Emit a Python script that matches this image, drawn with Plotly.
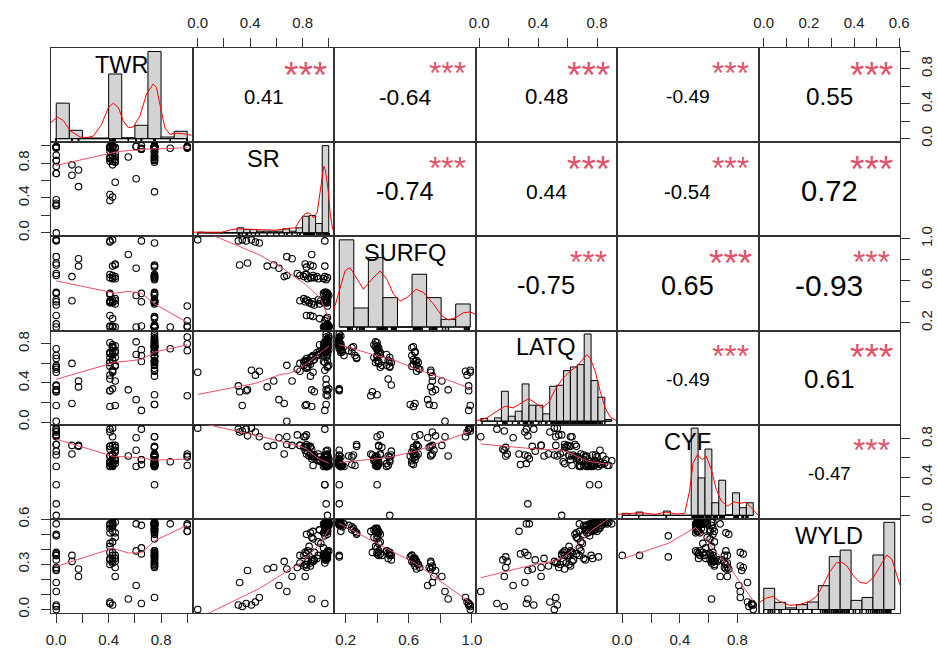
import numpy as np
import plotly.graph_objects as go

# ---------------- data (one observation per position) ----------------
names = ["TWR", "SR", "SURFQ", "LATQ", "CYF", "WYLD"]

twr = [0.75, 0.75, 0.75, 0.75, 0.75, 0.75, 0.75, 0.75, 0.75, 0.75, 0.75, 0.75, 0.75, 0.75, 0.75, 0.75,
       0.43, 0.43, 0.43, 0.43, 0.41, 0.41, 0.45, 0.65, 0.61, 1.00, 1.00, 0.87, 0.00, 0.00,
       0.75, 0.75, 0.75, 0.41, 0.43, 0.00, 1.00,
       0.75, 0.75, 0.75, 0.75, 0.75, 0.75, 0.75, 0.75, 0.75, 0.43, 0.43, 0.43, 0.45, 0.45, 0.45,
       0.41, 0.41, 0.41, 0.00, 0.00, 0.00, 0.12, 0.65, 1.00,
       0.75, 0.75, 0.75, 0.75, 0.41, 0.41, 0.61, 0.65, 0.00, 0.00,
       0.75, 0.75, 0.75, 0.75, 0.75, 0.75, 0.75, 0.75, 0.43, 0.43, 0.43, 0.45, 0.45, 0.41, 0.41,
       0.00, 0.00, 0.12,
       0.75, 0.75, 0.75, 0.43, 0.45, 0.45, 0.17, 0.00, 0.00, 0.61,
       0.00, 0.17, 0.55,
       0.00, 0.00, 0.00, 0.41, 0.41, 0.43, 0.75, 0.65]

sr = [0.99, 1.00, 0.98, 0.99, 1.00, 0.97, 0.99, 0.98, 1.00, 0.99, 0.96, 0.99, 1.00, 0.98, 0.99, 0.97,
      0.99, 0.98, 1.00, 0.99, 0.97, 0.99, 0.98, 1.00, 0.99, 0.98, 0.99, 0.97, 0.98, 0.99,
      0.93, 0.88, 0.99, 0.86, 0.98, 0.83, 0.97,
      0.99, 0.98, 0.97, 0.96, 0.99, 0.93, 0.88, 0.84, 0.98, 0.99, 0.92, 0.82, 0.97, 0.87, 0.81,
      0.98, 0.85, 0.94, 0.97, 0.83, 0.89, 0.78, 0.96, 0.99,
      0.99, 0.98, 1.00, 0.97, 0.99, 0.98, 0.99, 0.96, 0.98, 0.99,
      0.99, 0.97, 0.92, 0.88, 0.86, 0.83, 0.98, 0.81, 0.96, 0.89, 0.78, 0.91, 0.84, 0.87, 0.82,
      0.76, 0.68, 0.66,
      0.97, 0.86, 0.83, 0.88, 0.58, 0.82, 0.53, 0.38, 0.32, 0.62,
      0.68, 0.72, 0.87,
      0.00, 0.31, 0.34, 0.37, 0.44, 0.41, 0.47, 0.97]

surfq = [0.16, 0.16, 0.17, 0.16, 0.17, 0.16, 0.16, 0.17, 0.16, 0.18, 0.16, 0.16, 0.17, 0.16, 0.17, 0.16,
         0.16, 0.17, 0.16, 0.16, 0.17, 0.16, 0.16, 0.17, 0.16, 0.16, 0.17, 0.16, 0.16, 0.19,
         0.24, 0.26, 0.25, 0.27, 0.24, 0.27, 0.22,
         0.40, 0.41, 0.39, 0.40, 0.42, 0.38, 0.40, 0.41, 0.40, 0.39, 0.42, 0.40, 0.41, 0.38, 0.43,
         0.40, 0.39, 0.41, 0.40, 0.42, 0.37, 0.41, 0.40, 0.36,
         0.47, 0.48, 0.46, 0.49, 0.48, 0.47, 0.46, 0.48, 0.49, 0.48,
         0.63, 0.64, 0.62, 0.65, 0.63, 0.66, 0.61, 0.64, 0.62, 0.63, 0.65, 0.64, 0.62, 0.63, 0.66,
         0.67, 0.65, 0.64,
         0.74, 0.75, 0.73, 0.74, 0.75, 0.76, 0.74, 0.77, 0.75, 0.72,
         0.83, 0.81, 0.85,
         0.99, 0.98, 0.99, 0.98, 0.97, 0.99, 0.96, 0.98]

latq = [0.78, 0.82, 0.76, 0.85, 0.88, 0.79, 0.83, 0.77, 0.86, 0.72, 0.80, 0.84, 0.78, 0.90, 0.76, 0.81,
        0.77, 0.73, 0.34, 0.79, 0.71, 0.32, 0.78, 0.74, 0.82, 0.87, 0.80, 0.75, 0.33, 0.68,
        0.72, 0.68, 0.77, 0.66, 0.76, 0.65, 0.73,
        0.78, 0.76, 0.82, 0.74, 0.71, 0.79, 0.67, 0.62, 0.28, 0.77, 0.69, 0.63, 0.73, 0.66, 0.58,
        0.81, 0.61, 0.70, 0.75, 0.56, 0.31, 0.60, 0.68, 0.27,
        0.63, 0.66, 0.58, 0.61, 0.57, 0.44, 0.69, 0.62, 0.38, 0.56,
        0.77, 0.72, 0.68, 0.63, 0.59, 0.55, 0.18, 0.62, 0.76, 0.64, 0.52, 0.71, 0.57, 0.16, 0.61,
        0.54, 0.58, 0.19,
        0.53, 0.47, 0.18, 0.51, 0.42, 0.17, 0.36, 0.33, 0.31, 0.23,
        0.01, 0.42, 0.33,
        0.51, 0.37, 0.17, 0.32, 0.48, 0.53, 0.52, 0.12]

cyf = [0.52, 0.53, 0.51, 0.54, 0.52, 0.56, 0.53, 0.51, 0.58, 0.52, 0.54, 0.62, 0.52, 0.57, 0.53, 0.32,
       0.55, 0.51, 0.59, 0.63, 0.52, 0.54, 0.57, 0.53, 0.68, 0.52, 0.61, 0.56, 0.12, 0.51,
       0.61, 0.52, 0.63, 0.72, 0.53, 0.74, 0.62,
       0.52, 0.53, 0.55, 0.51, 0.63, 0.57, 0.61, 0.72, 0.53, 0.52, 0.64, 0.82, 0.54, 0.59, 0.71,
       0.51, 0.62, 0.56, 0.32, 0.84, 0.63, 0.73, 0.58, 0.64,
       0.52, 0.61, 0.54, 0.63, 0.56, 0.62, 0.51, 0.58, 0.67, 0.00,
       0.53, 0.61, 0.57, 0.62, 0.71, 0.64, 0.62, 0.82, 0.54, 0.63, 0.73, 0.58, 0.66, 0.69, 0.72,
       0.84, 0.74, 0.64,
       0.62, 0.64, 0.71, 0.63, 0.73, 0.68, 0.72, 0.83, 0.87, 0.81,
       0.82, 0.73, 0.62,
       0.91, 0.90, 0.88, 0.90, 0.87, 0.91, 0.82, 0.90]

wyld = [0.57, 0.58, 0.56, 0.57, 0.58, 0.57, 0.56, 0.57, 0.58, 0.55, 0.57, 0.58, 0.56, 0.57, 0.56, 0.35,
        0.57, 0.56, 0.57, 0.58, 0.56, 0.57, 0.58, 0.56, 0.57, 0.57, 0.52, 0.57, 0.36, 0.57,
        0.53, 0.52, 0.54, 0.51, 0.55, 0.50, 0.56,
        0.53, 0.52, 0.54, 0.51, 0.50, 0.53, 0.47, 0.39, 0.37, 0.52, 0.45, 0.38, 0.51, 0.48, 0.36,
        0.54, 0.42, 0.44, 0.49, 0.37, 0.38, 0.36, 0.41, 0.52,
        0.38, 0.37, 0.39, 0.36, 0.38, 0.34, 0.39, 0.37, 0.33, 0.36,
        0.34, 0.33, 0.36, 0.32, 0.31, 0.30, 0.35, 0.29, 0.36, 0.33, 0.31, 0.34, 0.32, 0.33, 0.30,
        0.28, 0.27, 0.32,
        0.31, 0.29, 0.28, 0.32, 0.28, 0.22, 0.27, 0.26, 0.18, 0.16,
        0.12, 0.22, 0.07,
        0.00, 0.03, 0.02, 0.04, 0.05, 0.03, 0.08, 0.04]

# correlation coefficients (upper triangle, row-wise) and significance stars
corr_values = [0.41, -0.64, 0.48, -0.49, 0.55,
               -0.74, 0.44, -0.54, 0.72,
               -0.75, 0.65, -0.93,
               -0.49, 0.61,
               -0.47]
corr_stars = ["***"] * 15

# histograms (bin edges, bar densities) and density curves
twr_breaks = [0.0, 0.1, 0.2, 0.3, 0.4, 0.5, 0.6, 0.7, 0.8, 0.9, 1.0]
twr_hist = [1.06, 0.25, 0.02, 0.02, 1.93, 0.03, 0.40, 2.60, 0.05, 0.22]
twr_dens_x = [-0.041, 0.010, 0.056, 0.107, 0.183, 0.233, 0.284, 0.347, 0.398, 0.436, 0.474, 0.512,
              0.550, 0.588, 0.639, 0.689, 0.740, 0.765, 0.796, 0.829, 0.867, 0.918, 0.968, 1.031]
twr_dens_y = [0.48, 0.65, 0.53, 0.23, 0.05, 0.03, 0.08, 0.43, 0.93, 1.06, 0.93, 0.53,
              0.33, 0.35, 0.68, 1.33, 1.63, 1.53, 0.93, 0.33, 0.13, 0.16, 0.15, 0.10]

sr_breaks = [0.0, 0.05, 0.1, 0.15, 0.2, 0.25, 0.3, 0.35, 0.4, 0.45, 0.5, 0.55, 0.6, 0.65, 0.7,
             0.75, 0.8, 0.85, 0.9, 0.95, 1.0]
sr_hist = [0.02, 0, 0, 0, 0, 0, 0.15, 0.10, 0.10, 0.05, 0.05, 0.05, 0.05, 0.12, 0.05, 0.15,
           0.50, 0.52, 0.28, 2.62]
sr_dens_x = [-0.04, 0.098, 0.183, 0.259, 0.310, 0.438, 0.591, 0.668, 0.744, 0.783, 0.821, 0.852,
             0.885, 0.911, 0.936, 0.962, 0.974, 0.995, 1.013, 1.031]
sr_dens_y = [0.02, 0.02, 0.02, 0.10, 0.12, 0.10, 0.08, 0.12, 0.15, 0.40, 0.58, 0.60,
             0.45, 0.60, 1.30, 2.00, 1.90, 1.30, 0.50, 0.10]

surfq_breaks = [0.1, 0.2, 0.3, 0.4, 0.5, 0.6, 0.7, 0.8, 0.9, 1.0]
surfq_hist = [2.61, 0.57, 2.08, 0.88, 0.0, 1.58, 0.88, 0.23, 0.69]
surfq_dens_x = [0.064, 0.106, 0.140, 0.174, 0.209, 0.266, 0.324, 0.381, 0.427, 0.473, 0.519,
                0.565, 0.629, 0.680, 0.749, 0.806, 0.852, 0.898, 0.955, 1.001, 1.036]
surfq_dens_y = [0.53, 1.18, 1.68, 1.78, 1.53, 1.13, 1.43, 1.68, 1.43, 0.98, 0.78,
                0.88, 1.13, 1.03, 0.68, 0.33, 0.21, 0.28, 0.43, 0.45, 0.38]

latq_breaks = [0.0, 0.05, 0.1, 0.15, 0.2, 0.25, 0.3, 0.35, 0.4, 0.45, 0.5, 0.55, 0.6, 0.65, 0.7,
               0.75, 0.8, 0.85, 0.9, 0.95]
latq_hist = [0.08, 0.0, 0.10, 0.90, 0.15, 0.30, 1.12, 0.48, 0.48, 0.22, 1.05, 1.08, 1.52, 1.63,
             1.70, 2.62, 1.22, 0.72, 0.05]
latq_dens_x = [-0.038, 0.044, 0.117, 0.177, 0.237, 0.298, 0.346, 0.395, 0.443, 0.491, 0.540,
               0.588, 0.648, 0.697, 0.745, 0.769, 0.793, 0.830, 0.866, 0.902, 0.939, 0.992]
latq_dens_y = [0.0, 0.10, 0.30, 0.45, 0.40, 0.55, 0.68, 0.55, 0.40, 0.55, 0.95,
               1.25, 1.50, 1.65, 1.90, 2.00, 1.90, 1.50, 0.90, 0.40, 0.12, 0.0]

cyf_breaks = [0.0, 0.05, 0.1, 0.15, 0.2, 0.25, 0.3, 0.35, 0.4, 0.45, 0.5, 0.55, 0.6, 0.65, 0.7,
              0.75, 0.8, 0.85, 0.9, 0.95]
cyf_hist = [0.06, 0.0, 0.10, 0, 0, 0, 0.13, 0, 0, 0, 2.63, 1.13, 2.00, 0.38, 1.06, 0.02, 0.68,
            0.23, 0.38]
cyf_dens_x = [-0.038, 0.044, 0.140, 0.237, 0.321, 0.393, 0.453, 0.490, 0.514, 0.545, 0.579,
              0.610, 0.646, 0.682, 0.718, 0.766, 0.810, 0.851, 0.899, 0.935, 0.988]
cyf_dens_y = [0.03, 0.06, 0.08, 0.03, 0.10, 0.04, 0.06, 0.78, 1.58, 1.83, 1.68,
              1.78, 1.38, 0.78, 0.43, 0.28, 0.41, 0.36, 0.40, 0.23, 0.0]

wyld_breaks = [0.0, 0.05, 0.1, 0.15, 0.2, 0.25, 0.3, 0.35, 0.4, 0.45, 0.5, 0.55, 0.6]
wyld_hist = [0.65, 0.22, 0.05, 0.15, 0.23, 0.73, 1.62, 1.82, 0.28, 0.37, 1.67, 2.67]
wyld_dens_x = [-0.024, 0.011, 0.042, 0.073, 0.118, 0.164, 0.210, 0.241, 0.272, 0.302, 0.333,
               0.356, 0.379, 0.409, 0.440, 0.471, 0.501, 0.532, 0.563, 0.586, 0.605, 0.624]
wyld_dens_y = [0.20, 0.35, 0.40, 0.25, 0.13, 0.15, 0.25, 0.40, 0.75, 1.15, 1.43,
               1.45, 1.35, 1.05, 0.83, 0.80, 0.97, 1.30, 1.67, 1.55, 1.15, 0.75]

# axis ticks and tick labels
twr_ticks = [0.0, 0.2, 0.4, 0.6, 0.8, 1.0]
twr_ticklabels = ["0.0", "", "0.4", "", "0.8", ""]
sr_ticks = [0.0, 0.2, 0.4, 0.6, 0.8, 1.0]
sr_ticklabels = ["0.0", "", "0.4", "", "0.8", ""]
surfq_ticks = [0.2, 0.4, 0.6, 0.8, 1.0]
surfq_ticklabels = ["0.2", "", "0.6", "", "1.0"]
latq_ticks = [0.0, 0.2, 0.4, 0.6, 0.8]
latq_ticklabels = ["0.0", "", "0.4", "", "0.8"]
cyf_ticks = [0.0, 0.2, 0.4, 0.6, 0.8]
cyf_ticklabels = ["0.0", "", "0.4", "", "0.8"]
wyld_ticks = [0.0, 0.1, 0.2, 0.3, 0.4, 0.5, 0.6]
wyld_x_ticklabels = ["0.0", "", "0.2", "", "0.4", "", "0.6"]
wyld_y_ticklabels = ["0.0", "", "", "0.3", "", "", "0.6"]

# ---------------- assembly ----------------
data = [twr, sr, surfq, latq, cyf, wyld]
hists = [(twr_breaks, twr_hist, twr_dens_x, twr_dens_y),
         (sr_breaks, sr_hist, sr_dens_x, sr_dens_y),
         (surfq_breaks, surfq_hist, surfq_dens_x, surfq_dens_y),
         (latq_breaks, latq_hist, latq_dens_x, latq_dens_y),
         (cyf_breaks, cyf_hist, cyf_dens_x, cyf_dens_y),
         (wyld_breaks, wyld_hist, wyld_dens_x, wyld_dens_y)]
x_ticks = [(twr_ticks, twr_ticklabels), (sr_ticks, sr_ticklabels), (surfq_ticks, surfq_ticklabels),
           (latq_ticks, latq_ticklabels), (cyf_ticks, cyf_ticklabels), (wyld_ticks, wyld_x_ticklabels)]
y_ticks = [(twr_ticks, twr_ticklabels), (sr_ticks, sr_ticklabels), (surfq_ticks, surfq_ticklabels),
           (latq_ticks, latq_ticklabels), (cyf_ticks, cyf_ticklabels), (wyld_ticks, wyld_y_ticklabels)]

W, H = 937, 649
X0, PW = 51.0, 141.5
Y0, PH = 48.0, 94.17
NV = 6
FONT = "Arial, Liberation Sans, sans-serif"
STAR_COL = "#DF536B"
SMOOTH_COL = "#E8506A"
BOX_COL = "#333333"


def rng(v):
    lo, hi = min(v), max(v)
    d = hi - lo
    return [lo - 0.04 * d, hi + 0.04 * d]


def lowess(x, y, f=2 / 3, iters=3):
    x = np.asarray(x, float)
    y = np.asarray(y, float)
    o = np.argsort(x, kind="mergesort")
    x, y = x[o], y[o]
    n = len(x)
    r = int(np.ceil(f * n))
    rob = np.ones(n)
    yest = np.zeros(n)
    for it in range(iters + 1):
        for i in range(n):
            d = np.abs(x - x[i])
            h = np.sort(d)[r - 1]
            if h <= 0:
                w = (d <= 0).astype(float)
            else:
                u = d / h
                w = np.where(u < 0.999, (1 - np.clip(u, 0, 1) ** 3) ** 3, 0.0)
                w[u <= 0.001] = 1.0
            w = w * rob
            sw = w.sum()
            if sw <= 0:
                yest[i] = y[i]
                continue
            xm = (w * x).sum() / sw
            ym = (w * y).sum() / sw
            sxx = (w * (x - xm) ** 2).sum()
            if sxx > 1e-12:
                b = (w * (x - xm) * (y - ym)).sum() / sxx
                yest[i] = ym + b * (x[i] - xm)
            else:
                yest[i] = ym
        res = y - yest
        s = 6 * np.median(np.abs(res))
        if s < 1e-7:
            break
        u = np.abs(res) / s
        rob = np.where(u < 1, (1 - u ** 2) ** 2, 0.0)
    return x, yest


def em_width(txt):
    wmap = {".": 0.278, "-": 0.333}
    return sum(wmap.get(c, 0.556) for c in txt)


fig = go.Figure()
layout = {}
annotations = []

for i in range(NV):
    for j in range(NV):
        k = i * NV + j + 1
        sfx = "" if k == 1 else str(k)
        xref, yref = "x" + sfx, "y" + sfx
        xd = [(X0 + PW * j) / W, (X0 + PW * (j + 1)) / W]
        yd = [1 - (Y0 + PH * (i + 1)) / H, 1 - (Y0 + PH * i) / H]
        base = dict(showgrid=False, zeroline=False, showline=True, mirror=True,
                    linecolor=BOX_COL, linewidth=1, ticks="", showticklabels=False,
                    fixedrange=True)
        xa = dict(base, domain=xd, anchor=yref)
        ya = dict(base, domain=yd, anchor=xref)

        if i == j:
            br, hv, dx, dy = hists[i]
            b0, bn = br[0], br[-1]
            bw = (bn - b0)
            m = max(hv)
            xa["range"] = [b0 - 0.04 * bw, bn + 0.04 * bw]
            ya["range"] = [-0.04 * m, 1.04 * m]
            centers = [(br[q] + br[q + 1]) / 2 for q in range(len(hv))]
            widths = [br[q + 1] - br[q] for q in range(len(hv))]
            fig.add_trace(go.Bar(x=centers, y=hv, width=widths, xaxis=xref, yaxis=yref,
                                 marker=dict(color="#D3D3D3", line=dict(color="black", width=1)),
                                 showlegend=False, hoverinfo="skip"))
            fig.add_trace(go.Scatter(x=[b0, bn], y=[0, 0], mode="lines", xaxis=xref, yaxis=yref,
                                     line=dict(color="black", width=1), showlegend=False,
                                     hoverinfo="skip"))
            fig.add_trace(go.Scatter(x=dx, y=dy, mode="lines", xaxis=xref, yaxis=yref,
                                     line=dict(color="red", width=1), showlegend=False,
                                     hoverinfo="skip"))
            # rug
            y_lo = -0.04 * m
            y_hi = y_lo + 0.035 * 1.08 * m
            rx, ry = [], []
            for v in data[i]:
                rx += [v, v, None]
                ry += [y_lo, y_hi, None]
            fig.add_trace(go.Scatter(x=rx, y=ry, mode="lines", xaxis=xref, yaxis=yref,
                                     line=dict(color="black", width=1.5), showlegend=False,
                                     hoverinfo="skip"))
            annotations.append(dict(xref=xref + " domain", yref=yref + " domain", x=0.5, y=0.82,
                                    text=names[i], showarrow=False, xanchor="center",
                                    yanchor="middle", font=dict(family=FONT, size=23.5,
                                                                color="black")))
        else:
            xa["range"] = rng(data[j])
            ya["range"] = rng(data[i])
            if i > j:
                fig.add_trace(go.Scatter(x=data[j], y=data[i], mode="markers", xaxis=xref,
                                         yaxis=yref, showlegend=False, hoverinfo="skip",
                                         marker=dict(symbol="circle-open", size=6.5, color="black",
                                                     line=dict(width=1.1, color="black"))))
                lx, ly = lowess(data[j], data[i])
                fig.add_trace(go.Scatter(x=lx, y=ly, mode="lines", xaxis=xref, yaxis=yref,
                                         line=dict(color=SMOOTH_COL, width=1), showlegend=False,
                                         hoverinfo="skip"))
            else:
                # empty trace so that the subplot exists
                fig.add_trace(go.Scatter(x=[None], y=[None], mode="markers", xaxis=xref,
                                         yaxis=yref, showlegend=False, hoverinfo="skip"))
                idx = sum(NV - 1 - q for q in range(i)) + (j - i - 1)
                r = corr_values[idx]
                txt = f"{r:.2f}"
                em = em_width(txt)
                fs = 55.5 * (abs(r) + 0.3) / em
                sfs = fs * 1.3 / (abs(r) + 0.3)
                annotations.append(dict(xref=xref + " domain", yref=yref + " domain", x=0.5,
                                        y=0.48, text=txt, showarrow=False, xanchor="center",
                                        yanchor="middle",
                                        font=dict(family=FONT, size=fs, color="black")))
                annotations.append(dict(xref=xref + " domain", yref=yref + " domain", x=0.8,
                                        y=0.80 - 0.21 * sfs / PH, text=corr_stars[idx],
                                        showarrow=False, xanchor="center", yanchor="middle",
                                        font=dict(family=FONT, size=sfs, color=STAR_COL)))

        tick_common = dict(ticks="outside", ticklen=9, tickwidth=1, tickcolor=BOX_COL,
                           showticklabels=True,
                           tickfont=dict(family=FONT, size=15, color="#222222"))
        # top axes for even columns (2,4,6), bottom axes for odd columns (1,3,5)
        if i == 0 and j % 2 == 1:
            tv, tt = x_ticks[j]
            xa.update(tick_common, side="top", tickvals=tv, ticktext=tt, ticklabelstandoff=4)
        if i == NV - 1 and j % 2 == 0:
            tv, tt = x_ticks[j]
            xa.update(tick_common, side="bottom", tickvals=tv, ticktext=tt, ticklabelstandoff=4)
        # left axes for even rows (2,4,6), right axes for odd rows (1,3,5)
        if j == 0 and i % 2 == 1:
            tv, tt = y_ticks[i]
            ya.update(tick_common, side="left", tickvals=tv, ticktext=tt, tickangle=-90,
                      ticklabelstandoff=6)
        if j == NV - 1 and i % 2 == 0:
            tv, tt = y_ticks[i]
            ya.update(tick_common, side="right", tickvals=tv, ticktext=tt, tickangle=-90,
                      ticklabelstandoff=4)

        layout["xaxis" + sfx] = xa
        layout["yaxis" + sfx] = ya

fig.update_layout(**layout)
fig.update_layout(width=W, height=H, margin=dict(l=0, r=0, t=0, b=0, autoexpand=False),
                  paper_bgcolor="white", plot_bgcolor="white", barmode="overlay",
                  annotations=annotations, font=dict(family=FONT), showlegend=False)
fig.write_html("out.html", config={"displayModeBar": False},
               post_script="document.body.style.margin='0px';document.body.style.overflow='hidden';")
